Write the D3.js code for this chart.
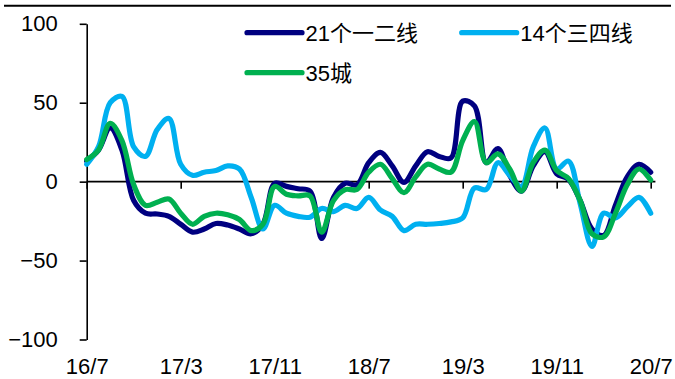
<!DOCTYPE html>
<html>
<head>
<meta charset="utf-8">
<script src="https://cdn.jsdelivr.net/npm/d3@7"></script>
<style>
  html, body { margin: 0; padding: 0; background: #fff; }
  svg { display: block; font-family: "Liberation Sans", Arial, "Noto Sans CJK SC", sans-serif; }
</style>
</head>
<body>
<svg id="chart" width="675" height="379"></svg>
<script>
// Monthly series, 2016/7 through 2020/7
const months = d3.range(49).map(i => {
  const m = 6 + i;
  return String(16 + Math.floor(m / 12)) + "/" + String((m % 12) + 1);
});
const tickLabels = ["16/7", "17/3", "17/11", "18/7", "19/3", "19/11", "20/7"];
const yTicks = [100, 50, 0, -50, -100];

const tier12 = [13, 20, 34, 20, -12, -20, -20.5, -22, -27, -32,
  -30, -26.5, -27.5, -30, -33, -27, -1, -3, -4.5, -6,
  -36, -10, -1, -2, 12, 18.5, 10, -0.5, 10, 19,
  16, 15, 51, 48, 12, 21, 4, -6, 10, 19,
  5, 1.5, -12, -30, -34, -15, 3, 11, 6];

const tier34 = [11, 22, 50, 54, 22, 16, 33, 40, 11, 4,
  6, 7, 10, 8, -10, -30, -15, -20, -22, -22.5,
  -17, -19, -15, -17, -10, -18, -22, -31, -27, -27,
  -26.5, -25.5, -23, -4, -5, 12, 4, -3, 22, 34,
  8, 13, -14, -41, -20, -23, -16, -10, -20];

const city35 = [14, 20, 37, 26, -2, -15, -13, -11, -20, -27,
  -22, -20, -21, -24, -31, -27, -3, -8, -9, -9,
  -32, -12, -5, -5, 6, 11, 2, -7, 3, 11,
  8, 6, 26, 38, 12, 17.6, 8, -6, 12, 20,
  7, 2, -12, -33, -35, -20, -2, 8, 1];

const seriesNames = ["21个一二线", "14个三四线", "35城"];
const seriesColors = ["#000080", "#00B0F0", "#00B050"];

const svg = d3.select("#chart");

const x = d3.scaleLinear().domain([0, 48]).range([86.7, 650.7]);
const y = d3.scaleLinear().domain([-100, 100]).range([339.5, 23.8]);

// top rule
svg.append("line")
  .attr("x1", 4).attr("x2", 671).attr("y1", 5.7).attr("y2", 5.7)
  .attr("stroke", "#000").attr("stroke-width", 2);

// y axis
const yAxis = d3.axisLeft(y).tickValues(yTicks).tickSize(7).tickPadding(22).tickSizeOuter(0);
const gy = svg.append("g").attr("transform", `translate(${x(0)},0)`).call(yAxis);
gy.select(".domain").attr("stroke", "#000").attr("stroke-width", 1.6);
gy.selectAll(".tick line").attr("stroke", "#000").attr("stroke-width", 1.6);
gy.selectAll("text").attr("font-size", 22).attr("fill", "#000");

// x axis line at zero with tick marks
const tickIdx = tickLabels.map(t => months.indexOf(t));
const xAxis = d3.axisBottom(x).tickValues(tickIdx).tickSize(7).tickFormat("").tickSizeOuter(0);
const gx = svg.append("g").attr("transform", `translate(0,${y(0)})`).call(xAxis);
gx.select(".domain").remove();
gx.append("line").attr("x1", x(0)).attr("x2", x(48.4)).attr("y1", 0).attr("y2", 0)
  .attr("stroke", "#000").attr("stroke-width", 1.6);
gx.selectAll(".tick line").attr("stroke", "#000").attr("stroke-width", 1.6);

// x labels along the bottom
const xLab = d3.axisBottom(x).tickValues(tickIdx).tickSize(0).tickPadding(0)
  .tickFormat(i => months[i]);
const gxl = svg.append("g").attr("transform", `translate(0,${y(-100) + 19})`).call(xLab);
gxl.select(".domain").remove();
gxl.selectAll("text").attr("font-size", 22).attr("fill", "#000").attr("dy", "0.71em");

// lines
const line = d3.line().x((d, i) => x(i)).y(d => y(d)).curve(d3.curveCatmullRom.alpha(0.5));
const allSeries = [tier12, tier34, city35];
svg.append("g").selectAll("path").data(allSeries).join("path")
  .attr("d", line)
  .attr("fill", "none")
  .attr("stroke", (d, i) => seriesColors[i])
  .attr("stroke-width", 5.2)
  .attr("stroke-linejoin", "round")
  .attr("stroke-linecap", "round");

// legend
const legendPos = [[247, 32.7], [461.7, 32.7], [247, 72.7]];
const lg = svg.append("g").selectAll("g").data(seriesNames).join("g")
  .attr("transform", (d, i) => `translate(${legendPos[i][0]},${legendPos[i][1]})`);
lg.append("line").attr("x1", 0).attr("x2", 55).attr("y1", 0).attr("y2", 0)
  .attr("stroke", (d, i) => seriesColors[i]).attr("stroke-width", 5.2).attr("stroke-linecap", "round");
lg.append("text").attr("x", 58.5).attr("y", 8).attr("font-size", 22).attr("fill", "#000").text(d => d);
</script>
</body>
</html>
